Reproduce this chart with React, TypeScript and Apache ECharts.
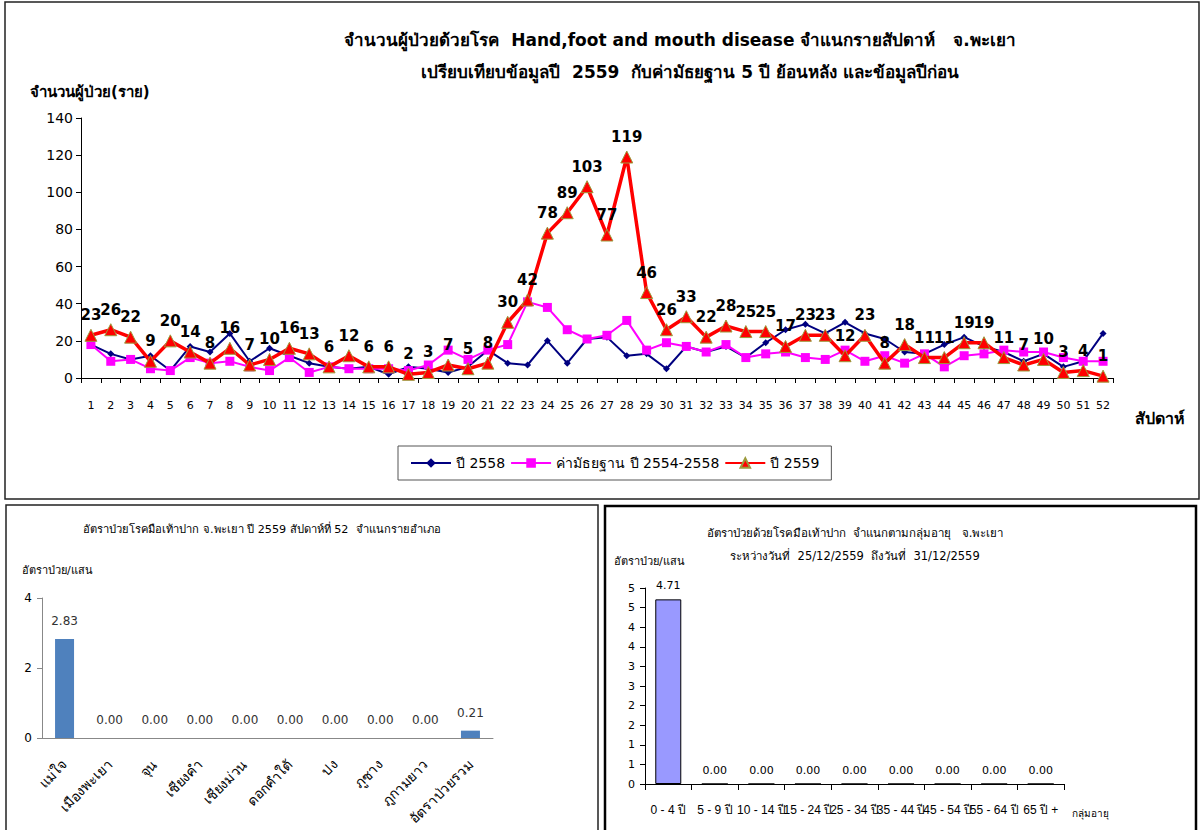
import React, { useEffect, useRef } from "react";
import * as echarts from "echarts";

const weeks = ["1","2","3","4","5","6","7","8","9","10","11","12","13","14","15","16","17","18","19","20","21","22","23","24","25","26","27","28","29","30","31","32","33","34","35","36","37","38","39","40","41","42","43","44","45","46","47","48","49","50","51","52"];
const y2558 = [18,13,10,12,4,17,14,24,9,16,12,8,6,5,6,2,6,5,3,6,15,8,7,20,8,21,22,12,13,5,17,14,17,11,19,26,29,24,30,24,21,14,13,18,22,17,14,9,13,6,9,24];
const median = [18,9,10,5,4,11,8,9,6,4,11,3,6,5,5,5,4,7,15,10,15,18,41,38,26,21,23,31,15,19,17,14,18,11,13,14,11,10,15,9,12,8,13,6,12,13,15,14,14,11,9,9];
const y2559 = [23,26,22,9,20,14,8,16,7,10,16,13,6,12,6,6,2,3,7,5,8,30,42,78,89,103,77,119,46,26,33,22,28,25,25,17,23,23,12,23,8,18,11,11,19,19,11,7,10,3,4,1];
const yTicksMain = [0, 140, 20];

const districts = ["แม่ใจ","เมืองพะเยา","จุน","เชียงคำ","เชียงม่วน","ดอกคำใต้","ปง","ภูซาง","ภูกามยาว","อัตราป่วยรวม"];
const districtRates = [2.83,0,0,0,0,0,0,0,0,0.21];

const ageGroups = ["0 - 4 ปี","5 - 9 ปี","10 - 14 ปี","15 - 24 ปี","25 - 34 ปี","35 - 44 ปี","45 - 54 ปี","55 - 64 ปี","65 ปี +"];
const ageRates = [4.71,0,0,0,0,0,0,0,0];

const FONT = "Tahoma, 'DejaVu Sans', 'Noto Sans', sans-serif";
const NARROW = "'Liberation Sans', Arial, sans-serif";

export default function App() {
  const ref = useRef<HTMLDivElement>(null);
  useEffect(() => {
    if (!ref.current) return;
    const chart = echarts.init(ref.current, null, { renderer: "svg" });
    const option: any = {
      animation: false,
      backgroundColor: "#ffffff",
      textStyle: { fontFamily: FONT },
      grid: [
        { left: 81, top: 118, width: 1032, height: 260 },
        { left: 42, top: 598, width: 451, height: 140 },
        { left: 645, top: 588, width: 419, height: 196 },
      ],
      legend: {
        left: 398, top: 446, padding: [10, 12], itemGap: 5, itemWidth: 40, itemHeight: 12,
        borderColor: "#555", borderWidth: 1,
        textStyle: { fontSize: 14, color: "#000", fontFamily: FONT },
        data: ["ปี 2558", "ค่ามัธยฐาน ปี 2554-2558", "ปี 2559"],
      },
      xAxis: [
        {
          gridIndex: 0, type: "category", data: weeks, boundaryGap: true,
          axisLine: { lineStyle: { color: "#000" } },
          axisTick: { show: true, interval: 0, length: 5, lineStyle: { color: "#000" } },
          axisLabel: { interval: 0, margin: 22, fontSize: 11, color: "#000", fontFamily: FONT },
        },
        {
          gridIndex: 1, type: "category", data: districts,
          axisLine: { lineStyle: { color: "#888" } },
          axisTick: { show: false },
          axisLabel: { interval: 0, rotate: 45, margin: 24, fontSize: 14, color: "#000", fontFamily: FONT },
        },
        {
          gridIndex: 2, type: "category", data: ageGroups,
          axisLine: { lineStyle: { color: "#000" } },
          axisTick: { show: true, inside: false, length: 6, lineStyle: { color: "#000" } },
          axisLabel: { interval: 0, margin: 20, fontSize: 12, color: "#000", fontFamily: NARROW },
        },
      ],
      yAxis: [
        {
          gridIndex: 0, type: "value", min: yTicksMain[0], max: yTicksMain[1], interval: yTicksMain[2],
          axisLine: { show: true, lineStyle: { color: "#000" } },
          axisTick: { show: true, length: 5, lineStyle: { color: "#000" } },
          splitLine: { show: false },
          axisLabel: { fontSize: 14, color: "#000", margin: 8, fontFamily: FONT },
        },
        {
          gridIndex: 1, type: "value", min: 0, max: 4, interval: 2,
          axisLine: { show: true, lineStyle: { color: "#888" } },
          axisTick: { show: true, length: 5, lineStyle: { color: "#888" } },
          splitLine: { show: false },
          axisLabel: { fontSize: 12, color: "#000", margin: 10, fontFamily: FONT },
        },
        {
          gridIndex: 2, type: "value", min: 0, max: 5, interval: 0.5,
          axisLine: { show: true, lineStyle: { color: "#000" } },
          axisTick: { show: true, length: 5, lineStyle: { color: "#000" } },
          splitLine: { show: false },
          axisLabel: {
            fontSize: 11, color: "#000", margin: 10, fontFamily: FONT,
            formatter: (v: number) => String(Math.floor(v + 0.5 + 1e-9)),
          },
        },
      ],
      series: [
        {
          name: "ปี 2558", type: "line", xAxisIndex: 0, yAxisIndex: 0, data: y2558,
          symbol: "diamond", symbolSize: 7, color: "#000080",
          lineStyle: { width: 2, color: "#000080" }, itemStyle: { color: "#000080" }, z: 2,
        },
        {
          name: "ค่ามัธยฐาน ปี 2554-2558", type: "line", xAxisIndex: 0, yAxisIndex: 0, data: median,
          symbol: "rect", symbolSize: 9, color: "#FF00FF",
          lineStyle: { width: 2, color: "#FF00FF" }, itemStyle: { color: "#FF00FF" }, z: 3,
        },
        {
          name: "ปี 2559", type: "line", xAxisIndex: 0, yAxisIndex: 0, data: y2559,
          symbol: "triangle", symbolSize: 12, color: "#FF0000",
          lineStyle: { width: 3.5, color: "#FF0000" },
          itemStyle: { color: "#FF0000", borderColor: "#9C9A3C", borderWidth: 1 }, z: 4,
          label: { show: true, position: "top", distance: 6, fontSize: 15, fontWeight: "bold", color: "#000", fontFamily: FONT },
        },
        {
          type: "bar", xAxisIndex: 1, yAxisIndex: 1, data: districtRates, barWidth: 19,
          itemStyle: { color: "#4F81BD" },
          label: { show: true, position: "top", distance: 12, fontSize: 12, color: "#333", fontFamily: FONT, formatter: (p: any) => p.value.toFixed(2) },
        },
        {
          type: "bar", xAxisIndex: 2, yAxisIndex: 2, data: ageRates, barWidth: 26,
          itemStyle: { color: "#9999FF", borderColor: "#000", borderWidth: 1 },
          label: { show: true, position: "top", distance: 8, fontSize: 11, color: "#000", fontFamily: FONT, formatter: (p: any) => p.value.toFixed(2) },
        },
      ],
      graphic: [
        { type: "rect", shape: { x: 5, y: 2, width: 1194, height: 497 }, style: { fill: "none", stroke: "#222", lineWidth: 1.5 }, z: -1 },
        { type: "rect", shape: { x: 6, y: 505, width: 592, height: 335 }, style: { fill: "none", stroke: "#222", lineWidth: 1.5 }, z: -1 },
        { type: "rect", shape: { x: 605, y: 506, width: 591, height: 335 }, style: { fill: "none", stroke: "#000", lineWidth: 2.5 }, z: -1 },
        { type: "text", x: 680, y: 40, style: { text: "จำนวนผู้ป่วยด้วยโรค  Hand,foot and mouth disease จำแนกรายสัปดาห์   จ.พะเยา", font: `bold 17px ${FONT}`, fill: "#000", textAlign: "center", textVerticalAlign: "middle" } },
        { type: "text", x: 690, y: 72, style: { text: "เปรียบเทียบข้อมูลปี  2559  กับค่ามัธยฐาน 5 ปี ย้อนหลัง และข้อมูลปีก่อน", font: `bold 17px ${FONT}`, fill: "#000", textAlign: "center", textVerticalAlign: "middle" } },
        { type: "text", x: 30, y: 92, style: { text: "จำนวนผู้ป่วย(ราย)", font: `bold 15px ${FONT}`, fill: "#000", textAlign: "left", textVerticalAlign: "middle" } },
        { type: "text", x: 1135, y: 418, style: { text: "สัปดาห์", font: `bold 16px ${FONT}`, fill: "#000", textAlign: "left", textVerticalAlign: "middle" } },
        { type: "text", x: 262, y: 529, style: { text: "อัตราป่วยโรคมือเท้าปาก จ.พะเยา ปี 2559 สัปดาห์ที่ 52  จำแนกรายอำเภอ", font: `11.2px ${FONT}`, fill: "#000", textAlign: "center", textVerticalAlign: "middle" } },
        { type: "text", x: 22, y: 570, style: { text: "อัตราป่วย/แสน", font: `11px ${FONT}`, fill: "#000", textAlign: "left", textVerticalAlign: "middle" } },
        { type: "text", x: 855, y: 533, style: { text: "อัตราป่วยด้วยโรคมือเท้าปาก  จำแนกตามกลุ่มอายุ   จ.พะเยา", font: `11.5px ${FONT}`, fill: "#000", textAlign: "center", textVerticalAlign: "middle" } },
        { type: "text", x: 855, y: 556, style: { text: "ระหว่างวันที่  25/12/2559  ถึงวันที่  31/12/2559", font: `11.5px ${FONT}`, fill: "#000", textAlign: "center", textVerticalAlign: "middle" } },
        { type: "text", x: 614, y: 561, style: { text: "อัตราป่วย/แสน", font: `11px ${FONT}`, fill: "#000", textAlign: "left", textVerticalAlign: "middle" } },
        { type: "text", x: 1072, y: 813, style: { text: "กลุ่มอายุ", font: `10px ${FONT}`, fill: "#000", textAlign: "left", textVerticalAlign: "middle" } },
      ],
    };
    chart.setOption(option);
    return () => chart.dispose();
  }, []);
  return <div ref={ref} style={{ position: "absolute", left: 0, top: 0, width: 1203, height: 830 }} />;
}
